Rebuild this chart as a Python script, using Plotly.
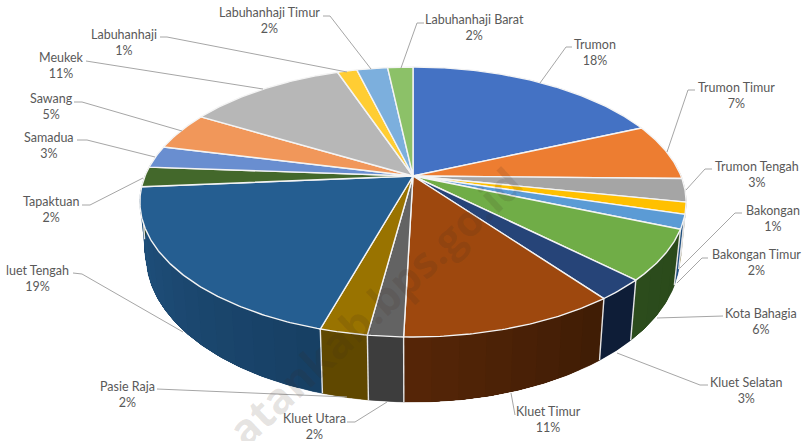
import math
import plotly.graph_objects as go

# ---- data ----
categories = ["Trumon", "Trumon Timur", "Trumon Tengah", "Bakongan", "Bakongan Timur", "Kota Bahagia",
              "Kluet Selatan", "Kluet Timur", "Kluet Utara", "Pasie Raja", "Kluet Tengah", "Tapaktuan",
              "Samadua", "Sawang", "Meukek", "Labuhanhaji", "Labuhanhaji Timur", "Labuhanhaji Barat"]
values = [18.5, 6.8, 2.8, 1.4, 1.7, 6.0, 2.5, 10.75, 1.75, 2.35, 19.15, 2.4, 2.65, 4.55, 11.3, 1.4, 2.2, 1.8]
percent_labels = ["18%", "7%", "3%", "1%", "2%", "6%", "3%", "11%", "2%", "2%", "19%", "2%",
                  "3%", "5%", "11%", "1%", "2%", "2%"]
top_colors = ["#4472C4", "#ED7D31", "#A5A5A5", "#FFC000", "#5B9BD5", "#70AD47", "#264478", "#9E480E", "#636363",
              "#997300", "#255E91", "#43682B", "#698ED0", "#F1975A", "#B7B7B7", "#FFCD33", "#7CAFDD", "#8CC168"]
# wall shading at the start and at the end of each slice (clockwise)
wall_start = ["#2A4476", "#8E4B1D", "#636363", "#997300", "#1F4F80", "#2A4A1B", "#0D1C36", "#3E1C05", "#3D3D3D",
              "#604800", "#173F63", "#2A411B", "#3F5580", "#915B36", "#6E6E6E", "#997B1F", "#4A6985", "#54743E"]
wall_end = ["#2A4476", "#8E4B1D", "#636363", "#997300", "#1F4F80", "#2C4C1C", "#0E1E38", "#572607", "#3D3D3D",
            "#604800", "#20527F", "#2A411B", "#3F5580", "#915B36", "#6E6E6E", "#997B1F", "#4A6985", "#54743E"]

# ---- layout helpers ----
W, H = 805, 441
CX, CY, A, B, K = 413, 176, 268, 130, 0.1926
SX_BOTTOM, Y0_BOTTOM, SY_BOTTOM = 0.977, 227.6, 1.083
GREY = "#595959"
LEADER = "#A6A6A6"
RIM = "#F4F4F4"

def top_pt(theta):
    u, v = math.sin(theta), -math.cos(theta)
    w = 1 / (1 - K * v)
    return CX + A * u * w, CY + B * v * w

def bottom_pt(theta):
    x, y = top_pt(theta)
    yb = Y0_BOTTOM + SY_BOTTOM * (y - CY)
    s = SX_BOTTOM + (1 - SX_BOTTOM) * min(1.0, max(0.0, (263 - yb) / 45))
    return CX + s * (x - CX), yb

def mix(c0, c1, f):
    a = [int(c0[j:j + 2], 16) for j in (1, 3, 5)]
    b = [int(c1[j:j + 2], 16) for j in (1, 3, 5)]
    return "#%02X%02X%02X" % tuple(round(p + (q - p) * f) for p, q in zip(a, b))

total = sum(values)
edges = [0.0]
for val in values:
    edges.append(edges[-1] + val / total * 2 * math.pi)

def arc(t0, t1, fn):
    n = max(2, int((t1 - t0) / 0.01))
    return [fn(t0 + (t1 - t0) * i / n) for i in range(n + 1)]

fig = go.Figure()

def wall_patch(a0, a1, col, lw):
    pts = arc(a0, a1, top_pt) + arc(a0, a1, bottom_pt)[::-1]
    fig.add_trace(go.Scatter(x=[p[0] for p in pts] + [pts[0][0]], y=[p[1] for p in pts] + [pts[0][1]],
                             mode="lines", fill="toself", fillcolor=col, line=dict(color=col, width=lw),
                             hoverinfo="skip", showlegend=False))

# side walls: coarse shading bands laid over a base patch, then the separators
PAD = 0.1
for i in range(len(values)):
    t0, t1 = max(edges[i], math.pi / 2 - PAD), min(edges[i + 1], 3 * math.pi / 2 + PAD)
    if t1 <= t0:
        continue
    wall_patch(t0, t1, mix(wall_start[i], wall_end[i], 0.5), 0.5)
    bands = max(1, int((t1 - t0) / 0.08))
    for b in range(bands):
        # each band runs on to the slice end so that no seam is left between bands
        wall_patch(t0 + (t1 - t0) * b / bands, t1, mix(wall_start[i], wall_end[i], (b + 0.5) / bands), 0)
for e in edges:
    if math.pi / 2 < e < 3 * math.pi / 2:
        p, q = top_pt(e), bottom_pt(e)
        fig.add_trace(go.Scatter(x=[p[0], q[0]], y=[p[1], q[1]], mode="lines", line=dict(color="#E4E4E4", width=1.4),
                                 hoverinfo="skip", showlegend=False))

# top faces
for i in range(len(values)):
    pts = [(CX, CY)] + arc(edges[i], edges[i + 1], top_pt) + [(CX, CY)]
    fig.add_trace(go.Scatter(x=[p[0] for p in pts], y=[p[1] for p in pts], mode="lines", fill="toself",
                             fillcolor=top_colors[i], line=dict(color=RIM, width=1.4),
                             name=categories[i], text=percent_labels[i], hoverinfo="name+text", showlegend=False))

# leader lines and labels (placement only)
leaders = [
    [(540, 83), (566, 47), (572, 47)], [(667, 152), (688, 90), (695, 90)], [(686, 190), (705, 169), (712, 169)],
    [(680, 268), (735, 213), (742, 213)], [(677, 283), (702, 258), (708, 258)], [(657, 318), (723, 316)],
    [(617, 353), (700, 385), (708, 385)], [(511, 393), (515, 415)], [(387, 402), (355, 422), (347, 422)],
    [(347, 397), (157, 389)], [(183, 332), (82, 274), (73, 273)], [(143, 178), (90, 205), (82, 205)],
    [(155, 157), (87, 140), (77, 140)], [(182, 131), (82, 102), (74, 102)], [(263, 89), (90, 61), (86, 61)],
    [(347, 72), (167, 37), (160, 37)], [(371, 69), (330, 16), (323, 16)], [(401, 68), (417, 23), (424, 23)],
]
label_pos = [(595, 52), (736, 95.5), (757, 174.5), (773, 218.5), (756, 262), (761, 321.5), (746, 390.5), (548, 419.5),
             (314, 426.5), (127, 394.5), (37, 278.5), (51, 209.5), (49, 145), (51, 106.5), (61, 65.5), (124, 42.5),
             (269, 20.5), (474, 27)]
shown_names = list(categories)
shown_names[10] = "luet Tengah"  # the K falls off the left edge of the picture

for seg in leaders:
    fig.add_trace(go.Scatter(x=[p[0] for p in seg], y=[p[1] for p in seg], mode="lines",
                             line=dict(color=LEADER, width=1), hoverinfo="skip", showlegend=False))

annotations = [dict(x=lx, y=ly, xref="x", yref="y", text=f"{n}<br>{p}", showarrow=False, align="center",
                    xanchor="center", yanchor="middle", font=dict(family="Lato", size=12.5, color=GREY))
               for (lx, ly), n, p in zip(label_pos, shown_names, percent_labels)]
annotations.append(dict(x=374, y=306, xref="x", yref="y", text="<b>atankab.bps.go.id</b>", showarrow=False, textangle=-43,
                        font=dict(family="Open Sans", size=43, color="rgba(60,40,30,0.13)"),
                        xanchor="center", yanchor="middle"))

fig.update_layout(width=W, height=H, margin=dict(l=0, r=0, t=0, b=0), paper_bgcolor="white", plot_bgcolor="white",
                  xaxis=dict(range=[0, W], visible=False, fixedrange=True),
                  yaxis=dict(range=[H, 0], visible=False, fixedrange=True),
                  annotations=annotations, showlegend=False)
fig.write_html("out.html", config=dict(displayModeBar=False),
               post_script="document.body.style.margin='0';document.body.style.overflow='hidden';")
